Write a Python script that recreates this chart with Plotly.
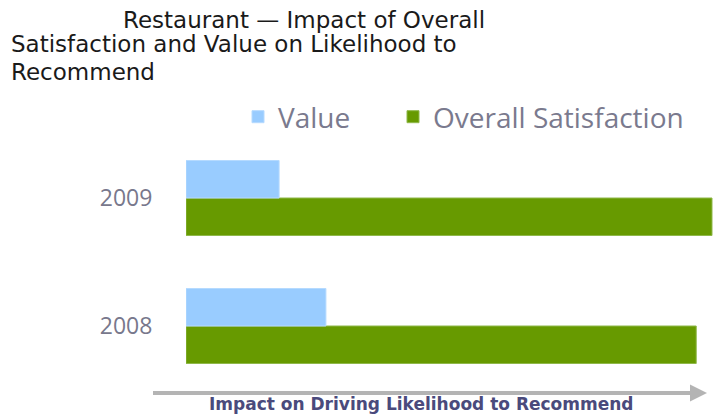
import plotly.graph_objects as go

years = ["2008", "2009"]
value_impact = [0.266, 0.177]
overall_impact = [0.97, 1.00]

W, H = 715, 414
L, T, B = 186, 134, 24
PW, PH = W - L, H - T - B

def px(x):
    return (x - L) / PW

def py(y):
    return (H - B - y) / PH

fig = go.Figure()
fig.add_trace(go.Bar(y=years, x=overall_impact, orientation="h", name="Overall Satisfaction",
                     marker=dict(color="#679a00", line=dict(color="#8fb84a", width=1))))
fig.add_trace(go.Bar(y=years, x=value_impact, orientation="h", name="Value", legendwidth=110,
                     marker=dict(color="#99ccff", line=dict(color="#b5daff", width=1))))

title_lines = [
    ("Restaurant \u2014 Impact of Overall", 121, 20),
    ("Satisfaction and Value on Likelihood to", 9, 44),
    ("Recommend", 9, 72),
]
annotations = []
for txt, x0, yc in title_lines:
    annotations.append(dict(text=txt, x=px(x0), y=py(yc), xref="paper", yref="paper",
                            xanchor="left", yanchor="middle", showarrow=False,
                            font=dict(family="DejaVu Sans", size=23, color="#1a1a1a")))
annotations.append(dict(text="<b>Impact on Driving Likelihood to Recommend</b>",
                        x=px(421), y=py(403.5), xref="paper", yref="paper",
                        xanchor="center", yanchor="middle", showarrow=False, borderpad=0,
                        font=dict(family="DejaVu Sans", size=17, color="#4a4a7c")))

shapes = [
    dict(type="line", xref="paper", yref="paper", x0=px(153), x1=px(692), y0=py(393), y1=py(393),
         line=dict(color="#b4b4b4", width=4)),
    dict(type="path", xref="paper", yref="paper",
         path=f"M {px(690)},{py(384.5)} L {px(707)},{py(393)} L {px(690)},{py(401.5)} Z",
         fillcolor="#b4b4b4", line=dict(width=0)),
]

fig.update_layout(
    width=W, height=H,
    margin=dict(l=L, r=0, t=T, b=B),
    paper_bgcolor="white", plot_bgcolor="white",
    barmode="group", bargap=0.414, bargroupgap=0,
    showlegend=True,
    legend=dict(orientation="h", x=px(238), y=py(117), xanchor="left", yanchor="middle",
                traceorder="reversed", font=dict(family="Open Sans", size=28, color="#7a7a8e"),
                bgcolor="rgba(0,0,0,0)", itemclick=False),
    xaxis=dict(range=[0, PW / 526], visible=False, fixedrange=True),
    yaxis=dict(type="category", showgrid=False, zeroline=False, showline=False,
               ticks="outside", ticklen=28, tickcolor="rgba(0,0,0,0)",
               tickfont=dict(family="Open Sans", size=23, color="#78788c")),
    annotations=annotations,
    shapes=shapes,
)

fig.write_html("out.html")
